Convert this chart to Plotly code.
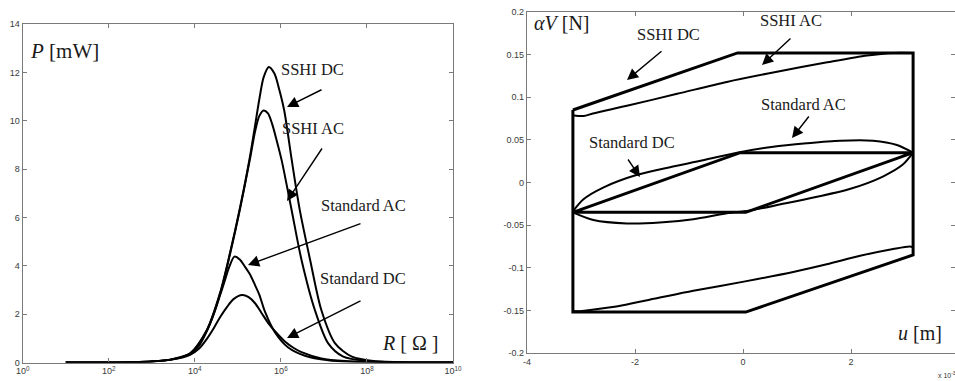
import plotly.graph_objects as go

# ---------------- Left panel data: P [mW] vs R [Ohm] (log10 R) ----------------
std_ac_logR = [1, 2, 2.5, 3, 3.5, 3.89, 4.1, 4.28, 4.45, 4.59, 4.7, 4.8, 4.92, 5.05, 5.15, 5.28, 5.4, 5.5, 5.63, 5.86, 6.17, 6.56, 7.1, 7.6, 8.5, 10]
std_ac_P = [0.0, 0.004, 0.012, 0.04, 0.14, 0.36, 0.7, 1.3, 2.05, 2.8, 3.4, 3.95, 4.38, 4.25, 4.0, 3.65, 3.2, 2.8, 2.1, 1.25, 0.62, 0.28, 0.09, 0.03, 0.005, 0.0]

std_dc_logR = [1, 2, 2.5, 3, 3.5, 3.89, 4.1, 4.28, 4.45, 4.59, 4.75, 4.9, 5.1, 5.25, 5.4, 5.55, 5.71, 5.9, 6.1, 6.3, 6.48, 6.94, 7.5, 8.5, 10]
std_dc_P = [0.0, 0.004, 0.012, 0.04, 0.13, 0.32, 0.58, 0.98, 1.45, 1.88, 2.3, 2.62, 2.79, 2.7, 2.45, 2.05, 1.62, 1.22, 0.86, 0.6, 0.43, 0.17, 0.06, 0.01, 0.0]

sshi_ac_logR = [1, 2, 2.5, 3, 3.5, 3.89, 4.28, 4.59, 4.82, 5.05, 5.28, 5.4, 5.5, 5.6, 5.7, 5.8, 5.9, 6.02, 6.25, 6.48, 6.79, 7.1, 7.45, 8, 9, 10]
sshi_ac_P = [0.0, 0.004, 0.012, 0.04, 0.14, 0.37, 1.32, 2.85, 4.5, 6.35, 8.4, 9.55, 10.2, 10.42, 10.3, 9.85, 9.2, 8.35, 6.3, 4.24, 2.17, 0.79, 0.24, 0.06, 0.005, 0.0]

sshi_dc_logR = [1, 2, 2.5, 3, 3.5, 3.89, 4.28, 4.59, 4.82, 5.05, 5.28, 5.4, 5.5, 5.6, 5.72, 5.85, 5.96, 6.08, 6.25, 6.44, 6.68, 6.94, 7.26, 7.65, 8.2, 9, 10]
sshi_dc_P = [0.0, 0.004, 0.012, 0.04, 0.15, 0.38, 1.35, 2.9, 4.55, 6.4, 8.5, 9.8, 10.9, 11.8, 12.22, 11.95, 11.3, 10.4, 8.4, 6.3, 4.24, 2.17, 0.79, 0.24, 0.05, 0.005, 0.0]

left_ytick_vals = [0, 2, 4, 6, 8, 10, 12, 14]
left_xtick_exps = [0, 2, 4, 6, 8, 10]

# ---------------- Right panel data: alpha*V [N] vs u [m] ----------------
sshi_dc_u = [-3.15, -0.1, 3.15, 3.15, 0.05, -3.15, -3.15]
sshi_dc_v = [0.085, 0.152, 0.152, -0.085, -0.152, -0.152, 0.085]

sshi_ac_top_u = [-3.15, -2.95, -2.78, -2.15, -1.22, -0.3, 0.63, 1.56, 2.3, 2.78, 3.15]
sshi_ac_top_v = [0.079, 0.078, 0.081, 0.090, 0.104, 0.118, 0.130, 0.141, 0.149, 0.152, 0.152]
sshi_ac_bot_u = [3.15, 3.09, 2.78, 2.17, 1.55, 0.93, 0.04, -0.92, -1.54, -2.15, -2.52, -3.02, -3.15]
sshi_ac_bot_v = [-0.076, -0.075, -0.078, -0.086, -0.096, -0.105, -0.116, -0.127, -0.135, -0.143, -0.147, -0.151, -0.151]

std_dc_u = [-3.15, -0.05, 3.15, 0.05, -3.15]
std_dc_v = [-0.035, 0.035, 0.035, -0.035, -0.035]

std_ac_top_u = [-3.15, -2.96, -2.59, -1.96, -1.35, -0.74, -0.11, 0.56, 1.18, 1.8, 2.41, 2.85, 3.15]
std_ac_top_v = [-0.034, -0.020, -0.006, 0.009, 0.018, 0.026, 0.035, 0.042, 0.046, 0.049, 0.049, 0.044, 0.035]
std_ac_bot_u = [3.15, 2.96, 2.59, 1.96, 1.35, 0.74, 0.11, -0.3, -0.92, -1.54, -2.15, -2.77, -3.15]
std_ac_bot_v = [0.035, 0.021, 0.007, -0.008, -0.017, -0.025, -0.033, -0.036, -0.043, -0.047, -0.048, -0.044, -0.035]

right_ytick_vals = [-0.2, -0.15, -0.1, -0.05, 0, 0.05, 0.1, 0.15, 0.2]
right_ytick_text = ["-0.2", "-0.15", "-0.1", "-0.05", "0", "0.05", "0.1", "0.15", "0.2"]
right_xtick_vals = [-4, -2, 0, 2]
right_xtick_text = ["-4", "-2", "0", "2"]

# ---------------- Figure ----------------
W, H = 955, 381
def px(x):
    return x / W
def py(y):
    return 1 - y / H

fig = go.Figure()

def add_left(xlog, yv, w=2.0):
    fig.add_trace(go.Scatter(x=[10 ** v for v in xlog], y=yv, mode="lines",
                             line=dict(color="black", width=w, shape="spline", smoothing=0.8),
                             xaxis="x", yaxis="y", showlegend=False, hoverinfo="skip"))

add_left(std_dc_logR, std_dc_P)
add_left(std_ac_logR, std_ac_P)
add_left(sshi_ac_logR, sshi_ac_P)
add_left(sshi_dc_logR, sshi_dc_P)

def add_right(u, v, w=2.0, shape="linear"):
    fig.add_trace(go.Scatter(x=u, y=v, mode="lines",
                             line=dict(color="black", width=w, shape=shape, smoothing=0.8),
                             xaxis="x2", yaxis="y2", showlegend=False, hoverinfo="skip"))

add_right(sshi_ac_top_u, sshi_ac_top_v, 2.0, "spline")
add_right(sshi_ac_bot_u, sshi_ac_bot_v, 2.0, "spline")
add_right(std_ac_top_u, std_ac_top_v, 2.0, "spline")
add_right(std_ac_bot_u, std_ac_bot_v, 2.0, "spline")
add_right(sshi_dc_u, sshi_dc_v, 3.0)
add_right(std_dc_u, std_dc_v, 3.0)

axis_col = "#7a7a7a"
tick_font = dict(family="Liberation Sans, Arial, sans-serif", size=9, color="#3a3a3a")

common = dict(showline=True, linecolor=axis_col, linewidth=1.2, mirror="ticks",
              ticks="inside", ticklen=4, tickcolor=axis_col, showgrid=False,
              zeroline=False, tickfont=tick_font, automargin=False)

fig.update_layout(
    width=W, height=H,
    margin=dict(l=0, r=0, t=0, b=0, autoexpand=False),
    paper_bgcolor="white", plot_bgcolor="white",
    xaxis=dict(type="log", range=[0, 10], domain=[px(22.7), px(453)], anchor="y",
               tickvals=[10 ** e for e in left_xtick_exps],
               ticktext=["10<sup>%d</sup>" % e for e in left_xtick_exps], **common),
    yaxis=dict(range=[0, 14], domain=[py(362.5), py(24)], anchor="x",
               tickvals=left_ytick_vals, **common),
    xaxis2=dict(range=[-4, -4 + (955 - 527) / 54.0], domain=[px(527), 1.0], anchor="y2",
                tickvals=right_xtick_vals, ticktext=right_xtick_text, **common),
    yaxis2=dict(range=[-0.2, 0.2], domain=[py(353), py(12)], anchor="x2",
                tickvals=right_ytick_vals, ticktext=right_ytick_text, **common),
)

serif = "Liberation Serif, Times New Roman, serif"
labels = [
    ("SSHI DC", 312, 70, 16.5),
    ("SSHI AC", 313, 128, 16.5),
    ("Standard AC", 363, 205, 16.5),
    ("Standard DC", 363, 278, 16.5),
    ("<i>P</i> [mW]", 64, 51, 21),
    ("<i>R</i> [ Ω ]", 410, 343, 20),
    ("<i>αV</i> [N]", 561, 23, 20),
    ("SSHI DC", 668, 35, 16.5),
    ("SSHI AC", 791, 20, 16.5),
    ("Standard AC", 803, 104, 16.5),
    ("Standard DC", 632, 142, 16.5),
    ("<i>u</i> [m]", 920, 333, 20),
]
for t, x, y, s in labels:
    fig.add_annotation(text=t, x=px(x), y=py(y), xref="paper", yref="paper",
                       xanchor="center", yanchor="middle", showarrow=False,
                       font=dict(family=serif, size=s, color="#1a1a1a"))

fig.add_annotation(text="x 10<sup>-3</sup>", x=px(936), y=py(375), xref="paper", yref="paper",
                   xanchor="left", yanchor="middle", showarrow=False,
                   font=dict(family="Liberation Sans, Arial, sans-serif", size=7, color="#333"))

arrows = [
    ((287, 107), (323, 89)),
    ((287, 201), (323, 147)),
    ((248, 265), (362, 223)),
    ((287, 338), (362, 300)),
    ((627, 80), (663, 50)),
    ((762, 65), (792, 37)),
    ((792, 138), (810, 115)),
    ((640, 177), (627, 158)),
]
for (tx, ty), (sx, sy) in arrows:
    fig.add_annotation(text="", x=px(tx), y=py(ty), xref="paper", yref="paper",
                       ax=sx - tx, ay=sy - ty, axref="pixel", ayref="pixel",
                       showarrow=True, arrowhead=2, arrowsize=1.6, arrowwidth=1.4,
                       arrowcolor="black", standoff=0, startstandoff=0)

fig.write_html("out.html", config={"displayModeBar": False},
               post_script="document.body.style.margin='0';document.body.style.overflow='hidden';")
